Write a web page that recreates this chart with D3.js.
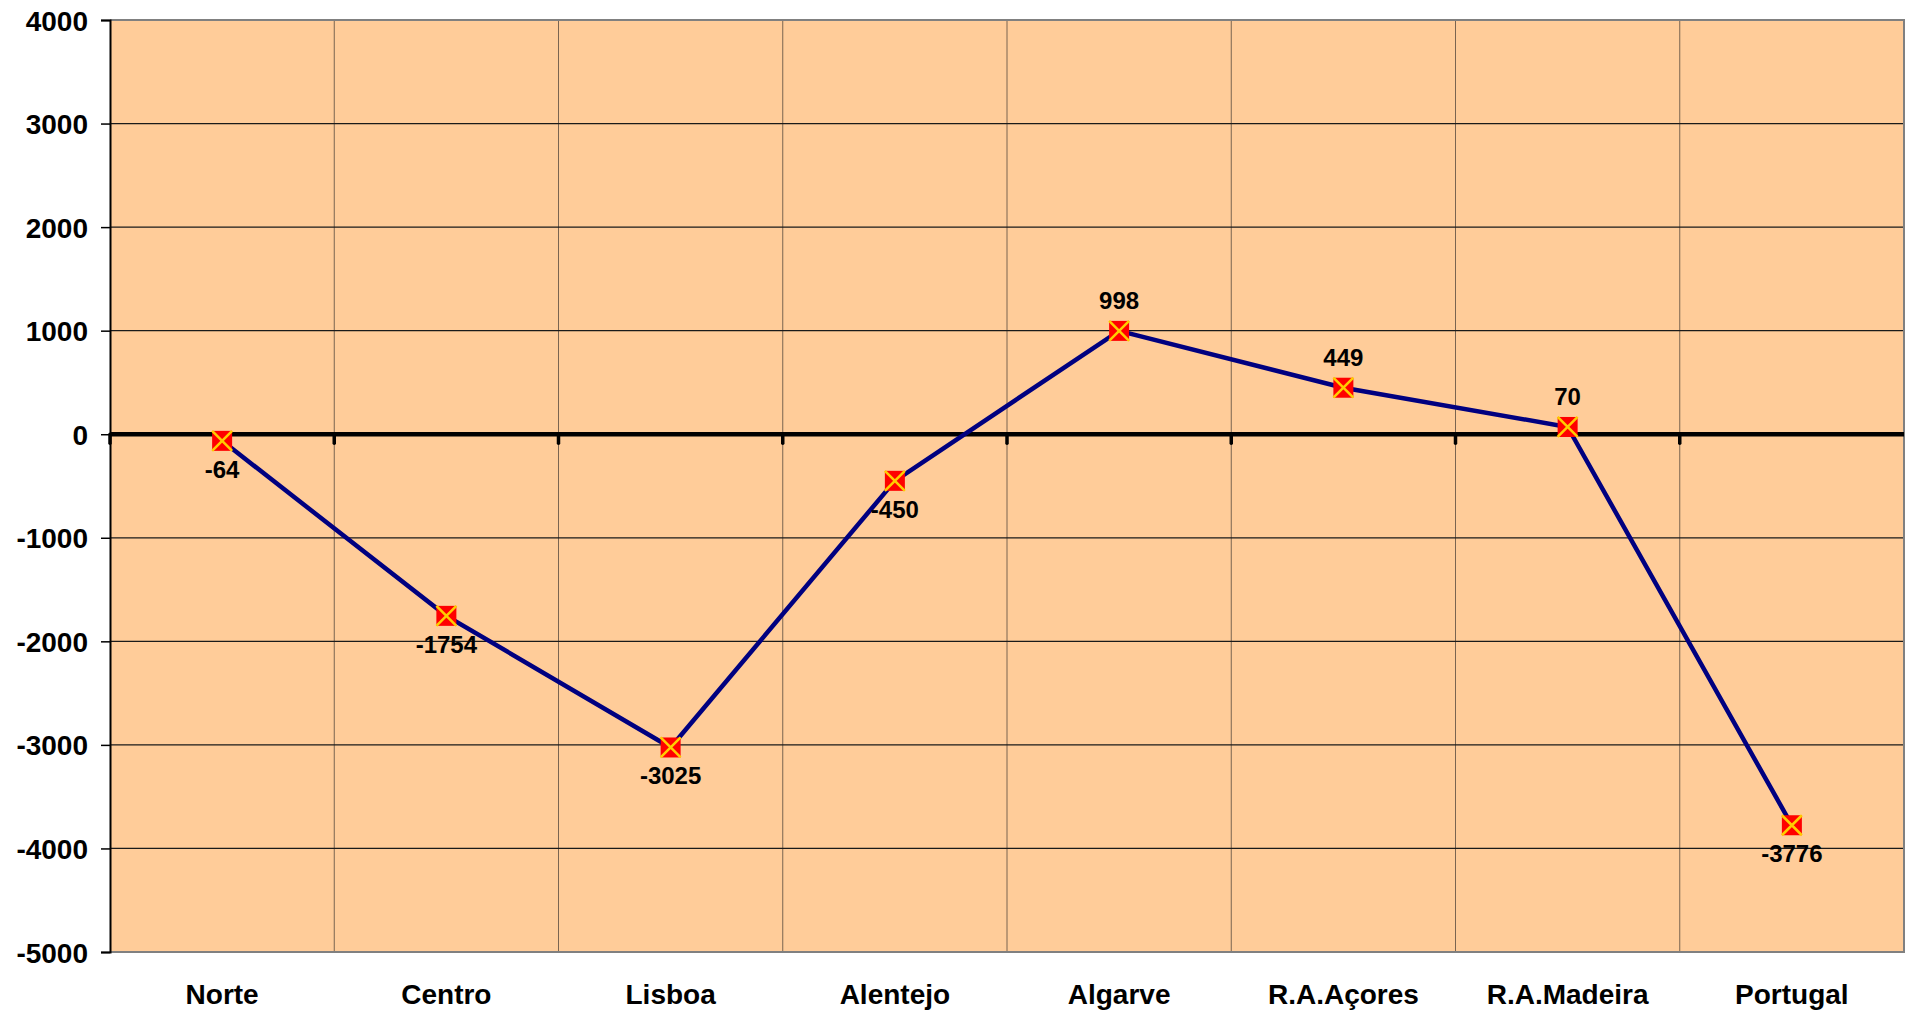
<!DOCTYPE html>
<html>
<head>
<meta charset="utf-8">
<script src="https://cdn.jsdelivr.net/npm/d3@7/dist/d3.min.js"></script>
<style>
  body { margin: 0; background: #fff; }
  text { font-family: Arial, "Liberation Sans", sans-serif; font-weight: bold; fill: #000; }
</style>
</head>
<body>
<div id="chart"></div>
<script>
// data
var regions = ["Norte", "Centro", "Lisboa", "Alentejo", "Algarve", "R.A.Açores", "R.A.Madeira", "Portugal"];
var values = [-64, -1754, -3025, -450, 998, 449, 70, -3776];
var yTicks = [4000, 3000, 2000, 1000, 0, -1000, -2000, -3000, -4000, -5000];

var svgWidth = 1908;
var svgHeight = 1015;
var plot = { left: 110, top: 20, right: 1904, bottom: 952 };

var svg = d3.select("#chart").append("svg")
  .attr("width", svgWidth)
  .attr("height", svgHeight);

var x = d3.scaleBand()
  .domain(regions)
  .range([plot.left, plot.right]);

var y = d3.scaleLinear()
  .domain([-5000, 4000])
  .range([plot.bottom, plot.top]);

// background
svg.append("rect")
  .attr("x", plot.left).attr("y", plot.top)
  .attr("width", plot.right - plot.left).attr("height", plot.bottom - plot.top)
  .attr("fill", "#ffcc99");

// vertical gridlines (category boundaries)
var bounds = regions.map(function(r) { return x(r); }).slice(1);
svg.append("g").selectAll("line")
  .data(bounds)
  .enter().append("line")
  .attr("x1", function(d) { return d; }).attr("x2", function(d) { return d; })
  .attr("y1", plot.top).attr("y2", plot.bottom)
  .attr("stroke", "#7a6450").attr("stroke-width", 1);

// horizontal gridlines
svg.append("g").selectAll("line")
  .data(yTicks.filter(function(t) { return t !== 0 && t !== -5000 && t !== 4000; }))
  .enter().append("line")
  .attr("x1", plot.left).attr("x2", plot.right)
  .attr("y1", function(d) { return y(d); }).attr("y2", function(d) { return y(d); })
  .attr("stroke", "#1a1a1a").attr("stroke-width", 1.3);

// gray border top/right/bottom
svg.append("path")
  .attr("d", "M" + plot.left + "," + plot.top + "H" + plot.right + "V" + plot.bottom + "H" + plot.left)
  .attr("fill", "none").attr("stroke", "#808080").attr("stroke-width", 2);

// y axis (plain hyphen for negatives)
var yAxis = d3.axisLeft(y).tickValues(yTicks).tickSize(9).tickPadding(13)
  .tickFormat(function(d) { return String(d); });
var gy = svg.append("g")
  .attr("transform", "translate(" + plot.left + ",0)")
  .call(yAxis);
gy.select(".domain").attr("stroke", "#000").attr("stroke-width", 2);
gy.selectAll(".tick line").attr("stroke", "#000").attr("stroke-width", 1.5);
gy.selectAll(".tick text").style("font-size", "28px").attr("dy", "0.36em");

// zero line with category ticks
svg.append("line")
  .attr("x1", plot.left).attr("x2", plot.right)
  .attr("y1", y(0)).attr("y2", y(0))
  .attr("stroke", "#000").attr("stroke-width", 4.5);
svg.append("g").selectAll("line")
  .data([plot.left].concat(bounds))
  .enter().append("line")
  .attr("x1", function(d) { return d; }).attr("x2", function(d) { return d; })
  .attr("y1", y(0)).attr("y2", y(0) + 9)
  .attr("stroke", "#000").attr("stroke-width", 3.5)
  .attr("stroke-linecap", "round");

// category labels
svg.append("g").selectAll("text")
  .data(regions)
  .enter().append("text")
  .attr("x", function(d) { return x(d) + x.bandwidth() / 2; })
  .attr("y", 1004)
  .attr("text-anchor", "middle")
  .style("font-size", "28px")
  .text(function(d) { return d; });

// line
var pts = regions.map(function(r, i) { return { name: r, value: values[i] }; });
var line = d3.line()
  .x(function(d) { return x(d.name) + x.bandwidth() / 2; })
  .y(function(d) { return y(d.value); });
svg.append("path")
  .datum(pts)
  .attr("d", line)
  .attr("fill", "none")
  .attr("stroke", "#000080")
  .attr("stroke-width", 4.5);

// markers
var ms = 10;
var marks = svg.append("g").selectAll("g")
  .data(pts)
  .enter().append("g")
  .attr("transform", function(d) { return "translate(" + (x(d.name) + x.bandwidth() / 2) + "," + y(d.value) + ")"; });
marks.append("rect")
  .attr("x", -ms).attr("y", -ms).attr("width", 2 * ms).attr("height", 2 * ms)
  .attr("fill", "#ff0000");
marks.append("path")
  .attr("d", "M" + (-ms) + "," + (-ms) + "L" + ms + "," + ms + "M" + ms + "," + (-ms) + "L" + (-ms) + "," + ms)
  .attr("stroke", "#ffcc00").attr("stroke-width", 2.5);

// data labels
svg.append("g").selectAll("text")
  .data(pts)
  .enter().append("text")
  .attr("x", function(d) { return x(d.name) + x.bandwidth() / 2; })
  .attr("y", function(d) { return d.value >= 0 ? y(d.value) - 22 : y(d.value) + 37; })
  .attr("text-anchor", "middle")
  .style("font-size", "24px")
  .text(function(d) { return d.value; });
</script>
</body>
</html>
